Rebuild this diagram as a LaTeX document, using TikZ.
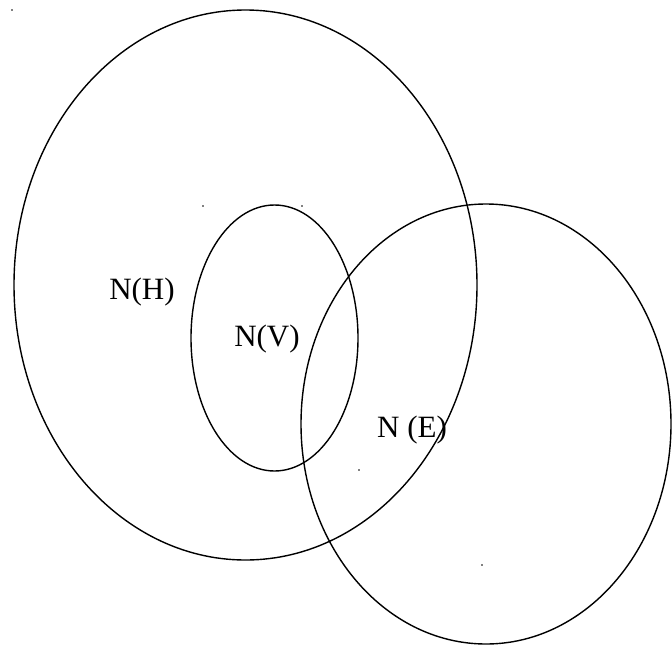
\documentclass[tikz,border=0pt]{standalone}
\usepackage{fontspec}
\setmainfont{Liberation Serif}
\usetikzlibrary{positioning}

\begin{document}
\begin{tikzpicture}[x=1pt, y=-1pt, line width=1.4pt,
    setlabel/.style={font=\fontsize{31}{36}\selectfont, inner sep=0pt},
    speck/.style={fill=black, draw=none}]
    \useasboundingbox (0,0) rectangle (672,645);

    % the three sets
    \draw (245.5,285) ellipse (231.5 and 275);
    \draw (274.5,338) ellipse (83.5 and 133);
    \draw (486,424) ellipse (185 and 220);

    % labels
    \node[setlabel] (nh) at (142,292) {N(H)};
    \node[setlabel] (nv) at (267,339) {N(V)};
    \node[setlabel] (ne) at (412,430) {N (E)};

    % stray marks
    \foreach \px/\py in {12/10, 203/206, 302/206, 359/470, 482/565}
        \fill[speck] (\px,\py) circle (0.8);
\end{tikzpicture}
\end{document}
